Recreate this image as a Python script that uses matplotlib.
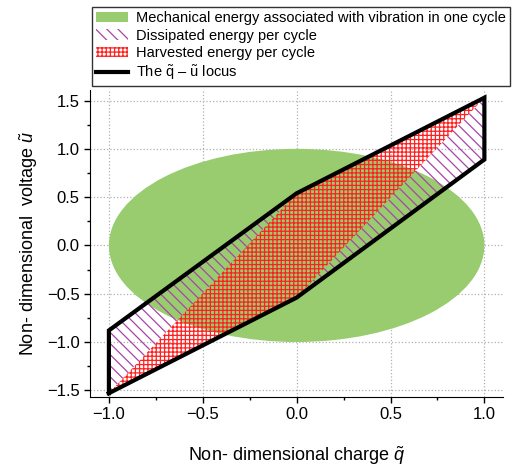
import matplotlib
matplotlib.use('Agg')
import matplotlib.pyplot as plt
from matplotlib.patches import Ellipse, Polygon, Patch
from matplotlib.lines import Line2D
from matplotlib.ticker import MultipleLocator

plt.rcParams['font.family'] = ['Liberation Sans', 'DejaVu Sans']
plt.rcParams['mathtext.fontset'] = 'custom'
plt.rcParams['mathtext.rm'] = 'Liberation Sans'
plt.rcParams['mathtext.it'] = 'Liberation Sans:italic'
plt.rcParams['hatch.linewidth'] = 0.9

# vibration energy ellipse (centre and full width/height in q, u)
ellipse_center = (0.0, 0.0)
ellipse_width = 2.0
ellipse_height = 2.0

# q-u locus corners
locus_q = [-1.0, -1.0, 0.0, 1.0, 1.0, 0.0, -1.0]
locus_u = [-1.53, -0.88, 0.54, 1.53, 0.89, -0.54, -1.53]

# dissipated energy triangles
diss_left_q = [-1.0, -1.0, 0.0]
diss_left_u = [-1.53, -0.88, 0.54]
diss_right_q = [0.0, 1.0, 1.0]
diss_right_u = [-0.54, 0.89, 1.53]

# harvested energy band
harv_q = [-1.0, 0.0, 1.0, 0.0]
harv_u = [-1.53, -0.54, 1.53, 0.54]

green = '#99cc6e'
purple = '#a844a8'
red = '#ff2020'

fig = plt.figure(figsize=(5.15, 4.71), dpi=100)
ax = fig.add_axes([0.175, 0.157, 0.802, 0.652])

ax.add_patch(Ellipse(ellipse_center, ellipse_width, ellipse_height,
                     facecolor=green, edgecolor='none', zorder=1))

for qq, uu in [(diss_left_q, diss_left_u), (diss_right_q, diss_right_u)]:
    ax.add_patch(Polygon(list(zip(qq, uu)), closed=True, facecolor='none',
                         edgecolor=purple, hatch='\\\\\\', linewidth=0, zorder=2))

ax.add_patch(Polygon(list(zip(harv_q, harv_u)), closed=True, facecolor='none',
                     edgecolor=red, hatch='++++', linewidth=0, zorder=3))

ax.plot(locus_q, locus_u, color='black', linewidth=3, solid_joinstyle='miter', zorder=4)

ax.set_xlim(-1.1, 1.1)
ax.set_ylim(-1.57, 1.61)
ax.xaxis.set_major_locator(MultipleLocator(0.5))
ax.xaxis.set_minor_locator(MultipleLocator(0.25))
ax.yaxis.set_major_locator(MultipleLocator(0.5))
ax.yaxis.set_minor_locator(MultipleLocator(0.25))
ax.tick_params(which='major', direction='out', length=4, width=1, labelsize=12)
ax.tick_params(which='minor', direction='out', length=2.5, width=1)
ax.spines['top'].set_visible(False)
ax.spines['right'].set_visible(False)
ax.set_axisbelow(True)
ax.grid(True, linestyle=':', color='#b0b0b0', linewidth=0.9)

ax.set_xlabel(r'Non- dimensional charge $\tilde{q}$', fontsize=13, labelpad=16)
ax.set_ylabel(r'Non- dimensional  voltage $\tilde{u}$', fontsize=13, labelpad=5)

handles = [
    Patch(facecolor=green, edgecolor='none'),
    Patch(facecolor='white', edgecolor=purple, hatch='\\\\\\', linewidth=0),
    Patch(facecolor='white', edgecolor=red, hatch='++++', linewidth=0),
    Line2D([0], [0], color='black', linewidth=3),
]
labels = [
    'Mechanical energy associated with vibration in one cycle',
    'Dissipated energy per cycle',
    'Harvested energy per cycle',
    r'The $\tilde{\mathrm{q}}$ – $\tilde{\mathrm{u}}$ locus',
]
leg = fig.legend(handles, labels, loc='upper right', bbox_to_anchor=(510 / 515, 1 - 7 / 471),
                 fontsize=10.5, frameon=True, fancybox=False, edgecolor='black',
                 borderaxespad=0, handlelength=2.2, labelspacing=0.22,
                 handletextpad=0.5, borderpad=0.3)
leg.get_frame().set_linewidth(1.0)

fig.savefig('out.png', dpi=100)
